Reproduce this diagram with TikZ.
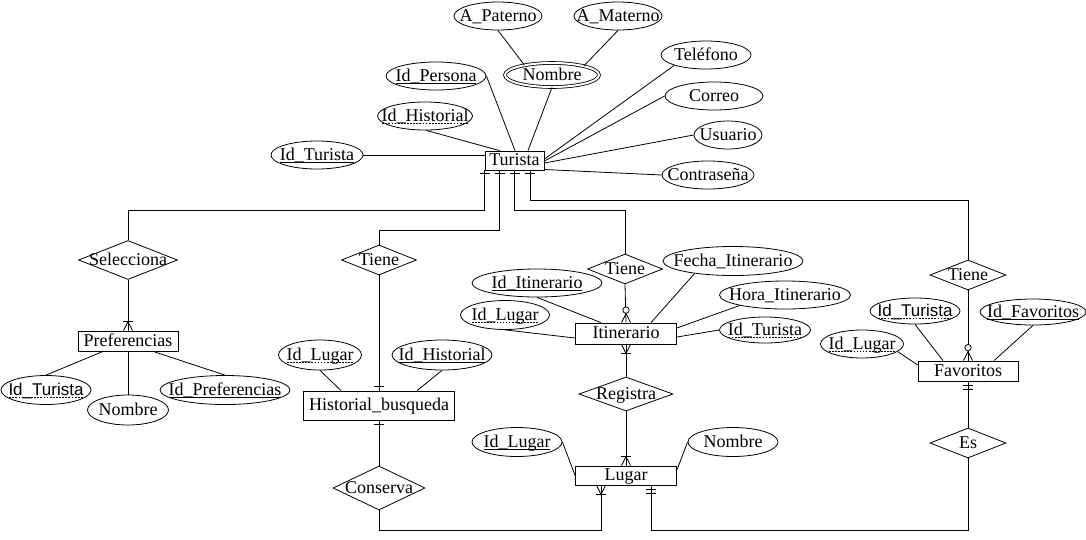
\documentclass[tikz,border=0pt]{standalone}
\usepackage{fontspec}
\setmainfont{Liberation Serif}
\newfontfamily\arialf{Liberation Sans}
\usetikzlibrary{shapes.geometric,calc}
\newbox\myulbox
\newcommand\sul[1]{\setbox\myulbox\hbox{#1}\rlap{\lower2.2pt\hbox{\vrule width\wd\myulbox height 0.7pt depth 0pt}}\box\myulbox}
\newcommand\dul[1]{\setbox\myulbox\hbox{#1}\rlap{\lower2.2pt\hbox to\wd\myulbox{\xleaders\hbox to 3pt{\hfil\vrule width 1.8pt height 0.7pt depth 0pt\hfil}\hfil}}\box\myulbox}
\newcommand\tx[1]{\makebox[0pt]{\raisebox{-0.3em}[0pt][0pt]{#1}}}
\newcommand\sanstx{\fontsize{17}{19}\arialf}
\newcommand\crowup[1]{\draw ($(#1)+(-4.5,0)$) -- ($(#1)+(0,-9)$) -- ($(#1)+(4.5,0)$);}
\newcommand\crowdown[1]{\draw ($(#1)+(-4.5,0)$) -- ($(#1)+(0,9)$) -- ($(#1)+(4.5,0)$);}
\newcommand\barup[2]{\draw ($(#1)+(-5,-#2)$) -- ($(#1)+(5,-#2)$);}
\newcommand\bardown[2]{\draw ($(#1)+(-5,#2)$) -- ($(#1)+(5,#2)$);}
\newcommand\circup[2]{\draw[fill=white] ($(#1)+(0,-#2)$) circle[radius=3.2];}
\begin{document}
\begin{tikzpicture}[x=1pt,y=-1pt,line width=0.8pt,
  every node/.style={font=\fontsize{18}{20}\selectfont, inner sep=0pt},
  attr/.style={ellipse, draw},
  ent/.style={rectangle, draw},
  rel/.style={diamond, draw},
  wh/.style 2 args={minimum width=#1, minimum height=#2}]
\useasboundingbox[fill=white] (0,0) rectangle (1086,539);
% Turista
\node[ent,wh={59}{19}] (tur) at (514.5,160.5) {\tx{Turista}};
\node[attr,wh={88}{28}] (ap) at (498,16) {\tx{A\_Paterno}};
\node[attr,wh={88}{28}] (am) at (618,16) {\tx{A\_Materno}};
\node[attr,double,double distance=2pt,wh={94}{24}] (nom) at (552,75) {\tx{Nombre}};
\node[attr,wh={100}{28}] (idper) at (436,76) {\tx{\sul{Id\_Persona}}};
\node[attr,wh={95}{28}] (idhis) at (425,116) {\tx{\dul{Id\_Historial}}};
\node[attr,wh={92}{28}] (idtur) at (317,155) {\tx{\sul{Id\_Turista}}};
\node[attr,wh={90}{28}] (tel) at (706,55) {\tx{Teléfono}};
\node[attr,wh={98}{28}] (cor) at (714,96) {\tx{Correo}};
\node[attr,wh={68}{28}] (usu) at (728,135) {\tx{Usuario}};
\node[attr,wh={92}{28}] (con) at (708,175) {\tx{Contraseña}};
% Preferencias
\node[rel,wh={99}{39}] (sel) at (128,260) {\tx{Selecciona}};
\node[ent,wh={100}{20}] (pref) at (128,341) {\tx{Preferencias}};
\node[attr,wh={90}{29}] (pidt) at (46,390) {\tx{\sanstx\dul{Id\_Turista}}};
\node[attr,wh={81}{30}] (pnom) at (128,410) {\tx{Nombre}};
\node[attr,wh={130}{29}] (pidp) at (225,390) {\tx{\sul{Id\_Preferencias}}};
% Historial
\node[rel,wh={75}{30}] (t1) at (379,260) {\tx{Tiene}};
\node[ent,wh={151}{29}] (hist) at (379,405.5) {\tx{Historial\_busqueda}};
\node[attr,wh={83}{30}] (hidl) at (320,355) {\tx{\dul{Id\_Lugar}}};
\node[attr,wh={100}{30}] (hidh) at (442,355) {\tx{\sul{Id\_Historial}}};
\node[rel,wh={92}{44}] (cons) at (379,488) {\tx{Conserva}};
% Itinerario
\node[rel,wh={75}{30}] (t2) at (625,269) {\tx{Tiene}};
\node[ent,wh={101}{21}] (itin) at (626,333.5) {\tx{Itinerario}};
\node[attr,wh={140}{29}] (ifecha) at (733,261) {\tx{Fecha\_Itinerario}};
\node[attr,wh={130}{28}] (iiditin) at (537,283) {\tx{\sul{Id\_Itinerario}}};
\node[attr,wh={131}{28}] (ihora) at (785,295) {\tx{Hora\_Itinerario}};
\node[attr,wh={89}{29}] (iidl) at (505,315) {\tx{\dul{Id\_Lugar}}};
\node[attr,wh={91}{26}] (iidt) at (765,330) {\tx{\dul{Id\_Turista}}};
\node[rel,wh={94}{34}] (reg) at (626,394) {\tx{Registra}};
% Lugar
\node[ent,wh={101}{19}] (lug) at (626,475.5) {\tx{Lugar}};
\node[attr,wh={90}{29}] (lidl) at (517,442) {\tx{\sul{Id\_Lugar}}};
\node[attr,wh={90}{29}] (lnom) at (733,442) {\tx{Nombre}};
% Favoritos
\node[rel,wh={76}{30}] (t3) at (968,275) {\tx{Tiene}};
\node[ent,wh={100}{20}] (fav) at (968,371) {\tx{Favoritos}};
\node[attr,wh={90}{26}] (fidt) at (915,311) {\tx{\sanstx\dul{Id\_Turista}}};
\node[attr,wh={106}{26}] (fidf) at (1033,312) {\tx{\sul{Id\_Favoritos}}};
\node[attr,wh={83}{28}] (fidl) at (862,344) {\tx{\dul{Id\_Lugar}}};
\node[rel,wh={76}{30}] (es) at (968,443) {\tx{Es}};
% Turista attribute lines
\draw (ap.south) -- (nom.160);
\draw (am.south) -- (nom.16);
\draw (nom.south) -- ([xshift=13.5]tur.north);
\draw (idper.east) -- ([xshift=0.5]tur.north);
\draw (idhis.-85) -- ([xshift=-15]tur.north);
\draw (idtur.east) -- ([yshift=5.5]tur.west);
\draw (tel.198) -- ([yshift=1.5]tur.east);
\draw (cor.west) -- ([yshift=-0.5]tur.east);
\draw (usu.west) -- ([yshift=-2.5]tur.east);
\draw (con.west) -- ([yshift=-9]tur.east);
% Turista relationships
\draw ([xshift=-30]tur.south) -- ++(0,40) -| (sel.north);
\draw ([xshift=-15]tur.south) -- ++(0,60) -| (t1.north);
\draw (tur.south) -- ++(0,40) -| (t2.north);
\draw ([xshift=15.5]tur.south) -- ++(0,30) -| (t3.north);
\bardown{[xshift=-30]tur.south}{3}
\bardown{[xshift=-15]tur.south}{3}
\bardown{tur.south}{3}
\bardown{[xshift=15.5]tur.south}{3}
% Preferencias
\draw (sel.south) -- (pref.north); \crowup{pref.north} \barup{pref.north}{9}
\draw ([xshift=-25]pref.south) -- (pidt.north);
\draw (pref.south) -- (pnom.north);
\draw ([xshift=25]pref.south) -- (pidp.north);
% Historial
\draw (t1.south) -- (hist.north); \barup{hist.north}{4}
\draw (hidl.south) -- ([xshift=-38]hist.north);
\draw (hidh.south) -- ([xshift=38]hist.north);
\draw (hist.south) -- (cons.north); \bardown{hist.south}{4}
\draw (cons.south) -- ++(0,20) -| ([xshift=-25]lug.south);
\crowdown{[xshift=-25]lug.south} \bardown{[xshift=-25]lug.south}{9}
% Lugar - Es - Favoritos
\draw ([xshift=25]lug.south) -- ++(0,45) -| (es.south);
\bardown{[xshift=25]lug.south}{4} \bardown{[xshift=25]lug.south}{8}
\draw (es.north) -- (fav.south); \bardown{fav.south}{4} \bardown{fav.south}{8}
\draw (t3.south) -- (fav.north); \crowup{fav.north} \circup{fav.north}{13}
% Itinerario
\draw (t2.south) -- (itin.north); \crowup{itin.north} \circup{itin.north}{12.5}
\draw (itin.south) -- (reg.north); \crowdown{itin.south} \bardown{itin.south}{8.5}
\draw (reg.south) -- (lug.north); \crowup{lug.north} \barup{lug.north}{9}
\draw (iiditin.south) -- ([xshift=-25]itin.north);
\draw (ifecha.198) -- ([xshift=25]itin.north);
\draw (ihora.193) -- ([yshift=5.5]itin.east);
\draw (iidt.west) -- ([yshift=-3.5]itin.east);
\draw (iidl.south) -- ([yshift=-4.5]itin.west);
% Lugar attributes
\draw (lidl.east) -- (lug.west);
\draw (lnom.west) -- ([yshift=5.5]lug.east);
% Favoritos attributes
\draw (fidt.south) -- ([xshift=-25]fav.north);
\draw (fidf.south) -- ([xshift=26]fav.north);
\draw (fidl.-12) -- ([yshift=6]fav.west);
\end{tikzpicture}
\end{document}
